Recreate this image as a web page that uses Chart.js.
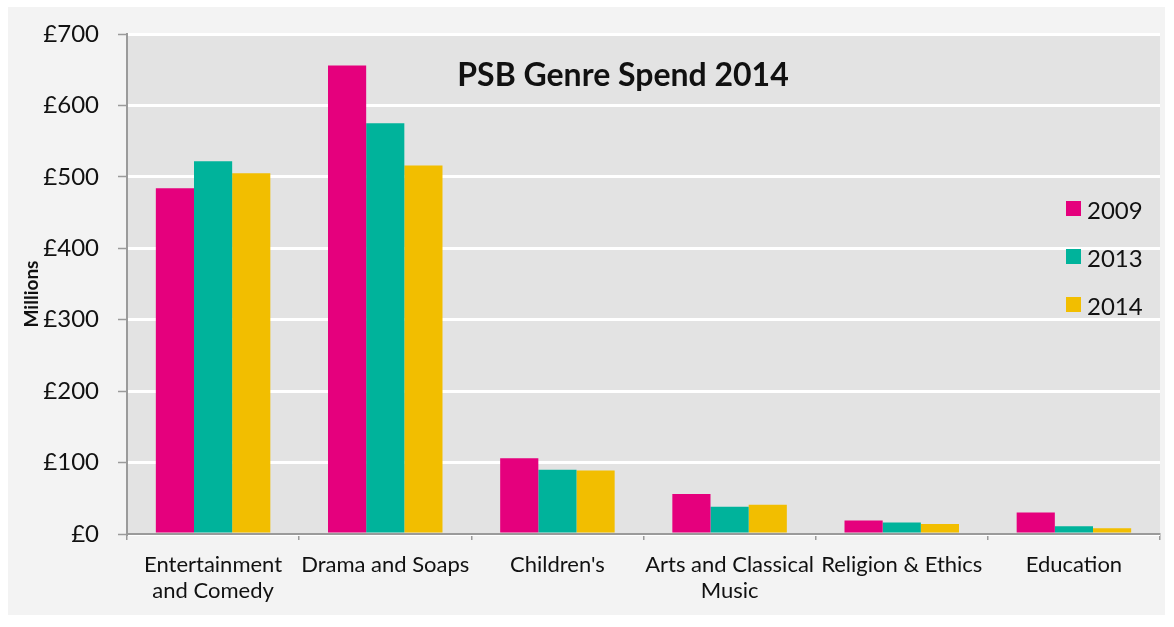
<!DOCTYPE html>
<html>
<head>
<meta charset="utf-8">
<title>PSB Genre Spend 2014</title>
<script src="https://cdn.jsdelivr.net/npm/chart.js@4.4.1/dist/chart.umd.min.js"></script>
<style>
    html, body { margin: 0; padding: 0; background: #ffffff; }
    #wrap { position: relative; width: 1174px; height: 627px; }
</style>
</head>
<body>
<div id="wrap"><canvas id="genreChart" width="1174" height="627"></canvas></div>
<script>
// data (£ millions)
const genres = [
    ['Entertainment', 'and Comedy'],
    'Drama and Soaps',
    "Children's",
    ['Arts and Classical', 'Music'],
    'Religion & Ethics',
    'Education'
];
const years = ['2009', '2013', '2014'];
const spend2009 = [484, 656, 106, 56, 19, 30];
const spend2013 = [522, 575, 90, 38, 16, 11];
const spend2014 = [505, 516, 89, 41, 14, 8];
const yTicks = [0, 100, 200, 300, 400, 500, 600, 700];

const colors = ['#e5007d', '#00b39b', '#f2be00'];
const FONT = 'Lato, "Open Sans", sans-serif';
const TEXT = '#111111';

// panel background + grey plot area
const backgroundPlugin = {
    id: 'panelBackground',
    beforeDraw(chart) {
        const { ctx, chartArea } = chart;
        ctx.save();
        ctx.fillStyle = '#ffffff';
        ctx.fillRect(0, 0, chart.width, chart.height);
        ctx.fillStyle = '#f3f3f3';
        ctx.fillRect(8, 7, 1157, 608);
        ctx.fillStyle = '#e3e3e3';
        ctx.fillRect(chartArea.left, chartArea.top, chartArea.right - chartArea.left, chartArea.bottom - chartArea.top);
        ctx.restore();
    }
};

// title, legend and axis title drawn inside / beside the plot area
const insetPlugin = {
    id: 'insetText',
    afterDraw(chart) {
        const { ctx } = chart;
        ctx.save();
        ctx.fillStyle = TEXT;
        ctx.font = 'bold 32px ' + FONT;
        ctx.textAlign = 'center';
        ctx.textBaseline = 'alphabetic';
        ctx.fillText('PSB Genre Spend 2014', 623, 86);

        ctx.font = '24px ' + FONT;
        ctx.textAlign = 'left';
        ctx.textBaseline = 'middle';
        chart.data.datasets.forEach((ds, i) => {
            const cy = 209 + i * 48;
            ctx.fillStyle = ds.backgroundColor;
            ctx.fillRect(1066, cy - 8, 15, 15);
            ctx.fillStyle = TEXT;
            ctx.fillText(ds.label, 1087, cy + 2);
        });

        // y axis title
        ctx.translate(32, 294);
        ctx.rotate(-Math.PI / 2);
        ctx.font = 'bold 19px ' + FONT;
        ctx.textAlign = 'center';
        ctx.fillText('Millions', 0, 0);
        ctx.restore();
    }
};

const datasets = [spend2009, spend2013, spend2014].map((values, i) => ({
    label: years[i],
    data: values,
    backgroundColor: colors[i],
    borderWidth: 0,
    categoryPercentage: 0.665,
    barPercentage: 1.0
}));

new Chart(document.getElementById('genreChart'), {
    type: 'bar',
    data: { labels: genres, datasets: datasets },
    options: {
        responsive: false,
        animation: false,
        devicePixelRatio: 1,
        layout: { padding: { left: 0, top: 34, right: 14, bottom: 0 } },
        plugins: {
            legend: { display: false },
            title: { display: false },
            tooltip: { enabled: false }
        },
        scales: {
            x: {
                afterFit(scale) { scale.height = 93; },
                grid: {
                    offset: true,
                    drawOnChartArea: false,
                    tickLength: 6,
                    tickColor: '#9a9a9a',
                    lineWidth: 1.5
                },
                border: { color: '#9a9a9a', width: 2 },
                ticks: {
                    color: TEXT,
                    font: { family: FONT, size: 22, lineHeight: 1.22 },
                    padding: 11,
                    maxRotation: 0,
                    autoSkip: false
                }
            },
            y: {
                min: 0,
                max: 700,
                afterFit(scale) { scale.width = 127; },
                afterBuildTicks(scale) {
                    scale.ticks = yTicks.map(v => ({ value: v }));
                },
                grid: {
                    color: '#ffffff',
                    lineWidth: 3,
                    tickLength: 9,
                    tickColor: '#9a9a9a',
                    tickWidth: 1.5
                },
                border: { color: '#9a9a9a', width: 2 },
                ticks: {
                    color: TEXT,
                    font: { family: FONT, size: 24 },
                    padding: 19,
                    callback: v => '£' + v
                }
            }
        }
    },
    plugins: [backgroundPlugin, insetPlugin]
});
</script>
</body>
</html>
